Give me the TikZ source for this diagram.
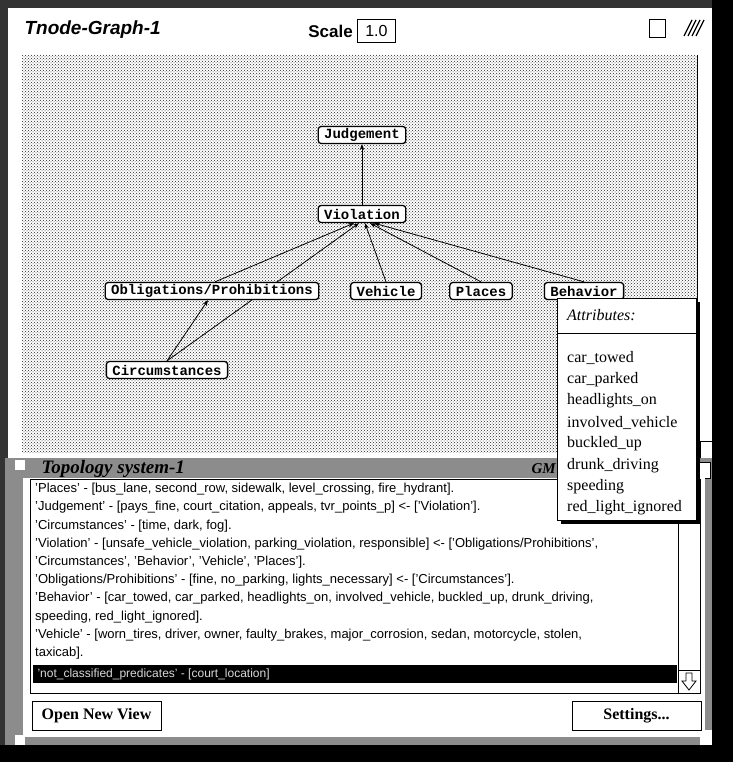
\documentclass[tikz,border=0pt]{standalone}
\usepackage{fontspec}
\setmainfont{Liberation Serif}
\setsansfont{Liberation Sans}
\setmonofont{Liberation Mono}
\usetikzlibrary{arrows.meta,patterns}
\pgfdeclarelayer{back}
\pgfdeclarelayer{edges}
\pgfsetlayers{back,edges,main}
\tikzset{
        tnode/.style={draw, line width=1.3pt, rounded corners=3pt, fill=white,
                font=\ttfamily\bfseries\fontsize{14}{14}\selectfont,
                minimum height=17pt, inner xsep=6pt, inner ysep=0pt},
        link/.style={line width=0.8pt, -{Stealth[length=6pt,width=4.5pt]}},
        attr/.style={anchor=west, inner sep=0pt, font=\fontsize{16}{16}\selectfont},
        button/.style={draw, line width=1pt, fill=white, minimum width=129pt,
                minimum height=29pt, font=\bfseries\fontsize{16}{16}\selectfont}
}

\begin{document}
\begin{tikzpicture}[x=1pt, y=-1pt]
        \begin{pgfonlayer}{back}
                \fill[black!80] (0,0) rectangle (733,762);
                \fill[black] (712,0) rectangle (733,762);
                \fill[black] (0,745) rectangle (733,762);

                \fill[white] (8,8) rectangle (712,458);
                \fill[white] (22,55) rectangle (697,452);
                \fill[pattern=crosshatch dots, pattern color=black!85] (22,55) rectangle (697,452);
                \draw[line width=1pt] (697,55) -- (697,452);
                \draw[fill=white, line width=0.8pt] (700,441) rectangle (712,458);

                \fill[black!45] (5,458) rectangle (712,745);
                \fill[white] (15,460) rectangle (25,470);
                \fill[white] (15,735) rectangle (25,745);
                \fill[white] (700,730) rectangle (712,745);
                \draw[fill=white, line width=0.8pt] (697,462) rectangle (710,478);
                \fill[white] (23,478) rectangle (705,737);
                \draw[line width=1pt] (30,479) rectangle (700,693);
                \draw[line width=0.8pt] (678,479) -- (678,693);
                \draw[line width=0.8pt] (678,670) -- (700,670);
                \draw[line width=0.8pt] (686,673) -- (692,673) -- (692,681) -- (696,681)
                        -- (689,690) -- (682,681) -- (686,681) -- cycle;
                \fill[black] (33,665) rectangle (677,683);

                \draw[line width=0.9pt] (649,19) rectangle (665,37);
                \draw[line width=1.2pt] (684,36) -- (692,20);
                \draw[line width=1.2pt] (688,36) -- (696,20);
                \draw[line width=1.2pt] (692,36) -- (700,20);
                \draw[line width=1.2pt] (696,36) -- (704,20);
        \end{pgfonlayer}

        \node[anchor=west, font=\sffamily\bfseries\itshape\fontsize{19}{19}\selectfont] (title) at (21,30) {Tnode-Graph-1};
        \node[anchor=east, inner sep=1pt, font=\sffamily\bfseries\fontsize{17}{17}\selectfont] (scale) at (354,31) {Scale};
        \node[anchor=west, draw, line width=0.8pt, minimum width=38pt, minimum height=23pt, inner sep=0pt,
                font=\sffamily\fontsize{16}{16}\selectfont] (scalebox) at (357,31) {1.0};

        \node[tnode] (judgement) at (362,135) {Judgement};
        \node[tnode] (violation) at (362,214) {Violation};
        \node[tnode] (obligations) at (212,291) {Obligations/Prohibitions};
        \node[tnode] (vehicle) at (386,291) {Vehicle};
        \node[tnode] (places) at (481,291) {Places};
        \node[tnode] (behavior) at (584,291) {Behavior};
        \node[tnode] (circumstances) at (167,370) {Circumstances};

        \begin{pgfonlayer}{edges}
                \draw[link] (violation.north) -- (judgement.south);
                \draw[link] ([xshift=3pt]obligations.north) -- ([xshift=-8pt]violation.south);
                \draw[link] (circumstances.north) -- ([xshift=-3pt]violation.south);
                \draw[link] (circumstances.north) -- ([xshift=-4pt]obligations.south);
                \draw[link] (vehicle.north) -- ([xshift=3pt]violation.south);
                \draw[link] (places.north) -- ([xshift=8pt]violation.south);
                \draw[link] (behavior.north) -- ([xshift=12pt]violation.south);
        \end{pgfonlayer}

        \node[anchor=west, font=\bfseries\itshape\fontsize{19}{19}\selectfont] (topology) at (38,469) {Topology system-1};
        \node[anchor=west, font=\bfseries\itshape\fontsize{15}{15}\selectfont] (gm) at (528,469) {GM};

        \node[anchor=north west, align=left, inner sep=0pt,
                font=\sffamily\fontsize{13}{18.2}\selectfont] (listing) at (35,483)
                {'Places' - [bus\_lane, second\_row, sidewalk, level\_crossing, fire\_hydrant].\\
                'Judgement' - [pays\_fine, court\_citation, appeals, tvr\_points\_p] <- ['Violation'].\\
                'Circumstances' - [time, dark, fog].\\
                'Violation' - [unsafe\_vehicle\_violation, parking\_violation, responsible] <- ['Obligations/Prohibitions',\\
                'Circumstances', 'Behavior', 'Vehicle', 'Places'].\\
                'Obligations/Prohibitions' - [fine, no\_parking, lights\_necessary] <- ['Circumstances'].\\
                'Behavior' - [car\_towed, car\_parked, headlights\_on, involved\_vehicle, buckled\_up, drunk\_driving,\\
                speeding, red\_light\_ignored].\\
                'Vehicle' - [worn\_tires, driver, owner, faulty\_brakes, major\_corrosion, sedan, motorcycle, stolen,\\
                taxicab].};
        \node[anchor=west, text=black!15, font=\sffamily\fontsize{12}{12}\selectfont] (selected) at (34,674)
                {'not\_classified\_predicates' - [court\_location]};

        \node[button] (openview) at (96.5,716) {Open New View};
        \node[button] (settings) at (636.5,716) {Settings...};

        \fill[black] (561,302) rectangle (700,524);
        \draw[fill=white, line width=0.8pt] (557,298) rectangle (696,520);
        \node[anchor=west, inner sep=0pt, font=\itshape\fontsize{16}{16}\selectfont] (attrhead) at (567,315) {Attributes:};
        \draw[line width=0.8pt] (557,333) -- (696,333);
        \node[attr] (towed) at (567,358) {car\_towed};
        \node[attr] (parked) at (567,380) {car\_parked};
        \node[attr] (headlights) at (567,401) {headlights\_on};
        \node[attr] (involved) at (567,423) {involved\_vehicle};
        \node[attr] (buckled) at (567,444) {buckled\_up};
        \node[attr] (drunk) at (567,466) {drunk\_driving};
        \node[attr] (speeding) at (567,487) {speeding};
        \node[attr] (redlight) at (567,508) {red\_light\_ignored};

        \useasboundingbox (0,0) rectangle (733,762);
\end{tikzpicture}
\end{document}
